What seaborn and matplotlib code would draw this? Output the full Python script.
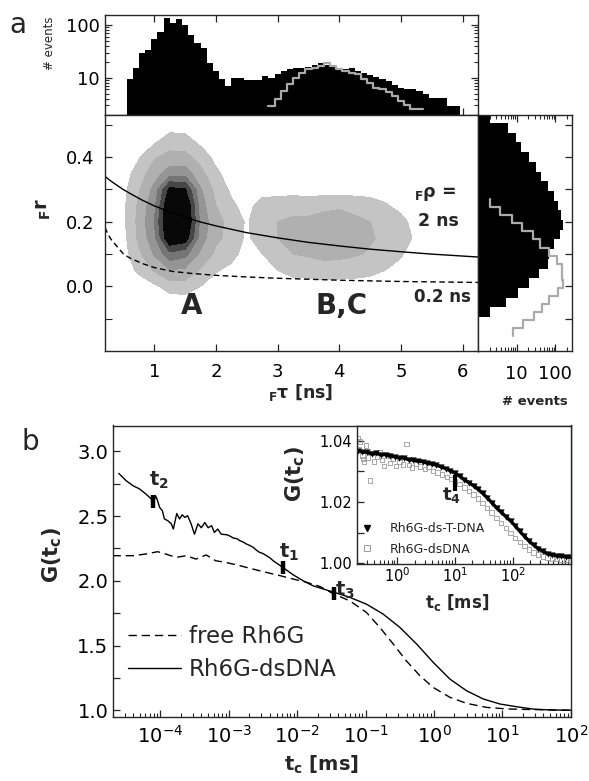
import numpy as np
import pandas as pd
import matplotlib
matplotlib.use("Agg")
import matplotlib.pyplot as plt
import seaborn as sns
from matplotlib.lines import Line2D
from matplotlib.ticker import FixedLocator, LogLocator, NullFormatter, FuncFormatter

# ------------------------------------------------------------------ data
# panel a, top histogram (fluorescence lifetime, 0.1 ns bins)
tau_bin_start = 0.55
tau_bin_width = 0.1
tau_counts_all = [9.3, 15.4, 29.5, 34, 54, 75, 134, 108, 130, 100, 65, 46.5, 36.5,
                  19, 13.3, 9.3, 6.9, 10, 10, 9, 9, 9, 11, 10, 11.6,
                  13.3, 14.4, 15.4, 15.4, 16, 17.8, 19, 17.5, 16, 15, 14.4, 15.4,
                  13.5, 12.5, 11.5, 10.3, 9.5, 8.5, 7.2, 6.5, 6.0, 6.0, 5.5, 4.9,
                  4.2, 4.2, 4.2, 2.9, 2.9]
tau_gray_start = 2.85
tau_counts_gray = [2.9, 4.0, 5.5, 7.5, 10, 12.3, 14.4, 15.4, 16.6, 19, 16.6, 14.8,
                   13.3, 12.3, 11.6, 9.3, 8.1, 6.5, 6.0, 5.3, 4.5, 3.6, 3.0, 2.6, 2.5]

# panel a, right histogram (anisotropy)
r_bin_start = -0.095
r_bin_width = 0.03
r_counts_all = [2.0, 5.4, 10.7, 21, 38, 63, 69, 93, 130, 158, 138, 120, 93, 63,
                42, 31.6, 21, 13, 9.7, 5.9, 2.0]
r_gray_start = -0.155
r_gray_width = 0.025
r_counts_gray = [8, 15, 28, 45, 70, 120, 160, 152, 150, 110, 70, 40, 27, 14, 7.5, 3.7, 2.0]

# panel a, 2D frequency map (contour level read on a coarse grid)
density_tau = [0.25, 0.5, 0.75, 1.0, 1.25, 1.5, 1.75, 2.0, 2.25, 2.5, 2.75, 3.0,
               3.25, 3.5, 3.75, 4.0, 4.25, 4.5, 4.75, 5.0, 5.25, 5.5]
density_r = [0.50, 0.45, 0.40, 0.35, 0.30, 0.25, 0.20, 0.15, 0.10, 0.05, 0.0, -0.05]
density_map = [
    [0, 0, 0, 0, 0, 0, 0, 0, 0, 0, 0, 0, 0, 0, 0, 0, 0, 0, 0, 0, 0, 0],
    [0, 0, 0, 0.3, 1.0, 0.9, 0.2, 0, 0, 0, 0, 0, 0, 0, 0, 0, 0, 0, 0, 0, 0, 0],
    [0, 0, 0.4, 1.4, 1.8, 1.8, 1.1, 0.2, 0, 0, 0, 0, 0, 0, 0, 0, 0, 0, 0, 0, 0, 0],
    [0, 0, 1.0, 2.0, 3.0, 3.0, 1.8, 0.7, 0, 0, 0, 0, 0, 0, 0, 0, 0, 0, 0, 0, 0, 0],
    [0, 0.2, 1.4, 2.8, 5.8, 5.6, 2.6, 1.2, 0.3, 0, 0, 0, 0, 0, 0, 0, 0, 0, 0, 0, 0, 0],
    [0, 0.3, 1.7, 3.2, 6.8, 6.8, 3.0, 1.5, 0.7, 0.1, 1.0, 1.1, 1.3, 1.1, 1.3, 1.4, 1.2, 1.0, 0.6, 0.2, 0, 0],
    [0, 0.3, 1.8, 3.5, 7.0, 7.0, 3.2, 1.8, 1.2, 0.35, 1.4, 1.5, 1.6, 1.7, 1.8, 1.8, 1.7, 1.5, 1.2, 0.8, 0.1, 0],
    [0, 0.2, 1.7, 3.2, 6.6, 6.2, 3.0, 1.7, 1.2, 0.3, 1.1, 1.5, 1.7, 1.8, 2.0, 2.0, 1.8, 1.6, 1.3, 1.0, 0.3, 0],
    [0, 0.1, 1.3, 2.6, 4.2, 3.8, 2.3, 1.3, 0.9, 0, 0.5, 1.2, 1.5, 1.6, 1.7, 1.7, 1.6, 1.4, 1.1, 0.6, 0, 0],
    [0, 0, 0.7, 1.6, 2.5, 2.3, 1.4, 0.6, 0.2, 0, 0, 0.5, 0.9, 1.0, 1.2, 1.1, 1.0, 0.8, 0.5, 0.2, 0, 0],
    [0, 0, 0, 0.3, 0.9, 1.0, 0.5, 0, 0, 0, 0, 0, 0, 0, 0, 0, 0, 0, 0, 0, 0, 0],
    [0, 0, 0, 0, 0, 0, 0, 0, 0, 0, 0, 0, 0, 0, 0, 0, 0, 0, 0, 0, 0, 0],
]

# Perrin lines
perrin2_tau = [0.2, 0.3, 0.4, 0.5, 0.6, 0.8, 1.0, 1.25, 1.5, 1.75, 2.0, 2.5, 3.0,
               3.5, 4.0, 4.5, 5.0, 5.5, 6.25]
perrin2_r = [0.340, 0.325, 0.312, 0.299, 0.288, 0.267, 0.249, 0.230, 0.214, 0.199,
             0.187, 0.166, 0.150, 0.136, 0.125, 0.115, 0.107, 0.0997, 0.0907]
perrin02_tau = [0.2, 0.25, 0.3, 0.4, 0.5, 0.6, 0.8, 1.0, 1.3, 1.6, 2.0, 2.5, 3.0,
                4.0, 5.0, 6.25]
perrin02_r = [0.182, 0.160, 0.145, 0.122, 0.100, 0.088, 0.071, 0.058, 0.046, 0.040,
              0.034, 0.029, 0.025, 0.019, 0.015, 0.012]

# panel b, correlation curves
dna_tc = [2.47e-5, 3.16e-5, 3.98e-5, 5.01e-5, 6.17e-5, 7.41e-5, 7.76e-5, 8.51e-5,
          9.12e-5, 9.77e-5, 1.07e-4, 1.15e-4, 1.29e-4, 1.45e-4, 1.55e-4, 1.74e-4,
          1.91e-4, 2.09e-4, 2.29e-4, 2.51e-4, 2.82e-4, 3.16e-4, 3.55e-4, 3.98e-4,
          4.47e-4, 5.01e-4, 5.62e-4, 6.17e-4, 6.92e-4, 7.76e-4, 9.33e-4, 1.05e-3,
          1.17e-3, 1.32e-3, 1.45e-3, 1.62e-3, 1.82e-3, 2.05e-3, 2.29e-3, 2.55e-3,
          2.82e-3, 3.2e-3, 3.55e-3, 4.0e-3, 4.47e-3, 6.17e-3, 8.71e-3, 1.23e-2,
          1.70e-2, 2.40e-2, 3.55e-2, 5.89e-2, 0.103, 0.181, 0.318, 0.558, 0.977,
          1.71, 3.01, 5.27, 9.25, 16.2, 28.2, 50, 100]
dna_G = [2.83, 2.774, 2.735, 2.709, 2.67, 2.632, 2.58, 2.658, 2.62, 2.567, 2.542,
         2.478, 2.464, 2.44, 2.40, 2.52, 2.478, 2.51, 2.49, 2.503, 2.44, 2.36, 2.44,
         2.41, 2.45, 2.41, 2.426, 2.374, 2.40, 2.36, 2.356, 2.345, 2.33, 2.325, 2.31,
         2.30, 2.284, 2.272, 2.258, 2.236, 2.22, 2.21, 2.194, 2.178, 2.155, 2.104,
         2.047, 2.0, 1.962, 1.937, 1.91, 1.872, 1.82, 1.743, 1.64, 1.512, 1.37,
         1.241, 1.15, 1.087, 1.048, 1.027, 1.009, 1.002, 1.0]
free_tc = [2.0e-5, 3.98e-5, 6.17e-5, 9.12e-5, 1.20e-4, 1.70e-4, 2.40e-4, 3.31e-4,
           4.68e-4, 6.46e-4, 9.12e-4, 1.45e-3, 2.29e-3, 3.55e-3, 5.62e-3, 8.71e-3,
           1.38e-2, 2.14e-2, 3.39e-2, 5.89e-2, 0.103, 0.162, 0.254, 0.398, 0.624,
           0.977, 1.71, 3.01, 5.89, 11.6, 28.2, 100]
free_G = [2.194, 2.194, 2.207, 2.225, 2.207, 2.181, 2.194, 2.168, 2.20, 2.155, 2.142,
          2.117, 2.09, 2.065, 2.04, 2.014, 1.988, 1.957, 1.90, 1.845, 1.756, 1.64,
          1.512, 1.38, 1.267, 1.176, 1.10, 1.053, 1.022, 1.01, 1.005, 1.0]
mark_labels = ["1", "2", "3"]
mark_tc = [6.2e-3, 7.8e-5, 3.5e-2]
mark_G = [2.10, 2.61, 1.905]
mark_label_tc = [7.6e-3, 9.4e-5, 5.0e-2]
mark_label_G = [2.217, 2.78, 1.923]

# inset
tdna_tc = [0.209, 0.251, 0.302, 0.363, 0.437, 0.525, 0.631, 0.759, 0.912, 1.096,
           1.318, 1.585, 1.905, 2.29, 2.754, 3.311, 3.981, 4.786, 5.754, 6.918,
           8.318, 10.0, 12.02, 14.45, 17.38, 20.89, 25.12, 30.2, 36.31, 43.65,
           52.48, 63.1, 75.86, 91.2, 109.6, 131.8, 158.5, 190.5, 229.1, 275.4,
           331.1, 398.1, 478.6, 575.4, 691.8, 831.8, 1000]
tdna_G = [1.0368, 1.0364, 1.0362, 1.0357, 1.0359, 1.0354, 1.0355, 1.0349, 1.0348,
          1.0343, 1.0344, 1.0338, 1.0337, 1.0333, 1.0332, 1.0327, 1.0325, 1.0320,
          1.0315, 1.0309, 1.0302, 1.0294, 1.0284, 1.0273, 1.0263, 1.0253, 1.0241,
          1.0228, 1.0213, 1.0197, 1.0180, 1.0166, 1.0152, 1.0138, 1.0122, 1.0104,
          1.0088, 1.0072, 1.0059, 1.0047, 1.0038, 1.0031, 1.0027, 1.0024, 1.0022,
          1.0020, 1.0019]
ds_tc = [0.21, 0.22, 0.23, 0.25, 0.26, 0.27, 0.29, 0.31, 0.34, 0.37, 0.40, 0.45,
         0.50, 0.55, 0.60, 0.68, 0.75, 0.85, 0.95, 1.1, 1.25, 1.45, 1.6, 1.8, 2.1,
         2.5, 3.0, 3.5, 4.2, 5.0, 6.0, 7.2, 8.5, 10, 12, 14.5, 17.5, 21, 25, 30, 36,
         43, 52, 63, 76, 91, 110, 132, 158, 190, 229, 275, 330, 400, 480, 575, 690,
         830, 1000]
ds_G = [1.0410, 1.0372, 1.0398, 1.0352, 1.0340, 1.0330, 1.0385, 1.0345, 1.0270,
        1.0360, 1.0332, 1.0348, 1.0362, 1.0338, 1.0318, 1.0352, 1.0328, 1.0340,
        1.0318, 1.0330, 1.0322, 1.0389, 1.0320, 1.0312, 1.0325, 1.0316, 1.0308,
        1.0315, 1.0302, 1.0296, 1.0290, 1.0282, 1.0275, 1.0268, 1.0258, 1.0247,
        1.0236, 1.0224, 1.0211, 1.0197, 1.0181, 1.0165, 1.0148, 1.0131, 1.0115,
        1.0099, 1.0083, 1.0068, 1.0055, 1.0044, 1.0035, 1.0028, 1.0022, 1.0018,
        1.0015, 1.0013, 1.0012, 1.0011, 1.0010]
t4_tc = 10.2
t4_G = 1.0262
t4_label_tc = 8.7
t4_label_G = 1.0224

# ------------------------------------------------------------------ style
sns.set_style("ticks")
plt.rcParams["font.family"] = ["DejaVu Sans"]
plt.rcParams["mathtext.fontset"] = "dejavusans"
plt.rcParams["axes.edgecolor"] = "#262626"
plt.rcParams["axes.linewidth"] = 1.0
plt.rcParams["xtick.color"] = "#262626"
plt.rcParams["ytick.color"] = "#262626"
plt.rcParams["xtick.labelcolor"] = "black"
plt.rcParams["ytick.labelcolor"] = "black"

W, H = 589, 781
fig = plt.figure(figsize=(W / 100, H / 100), dpi=100)


def px_axes(l, t, r, b):
    return fig.add_axes([l / W, 1 - b / H, (r - l) / W, (b - t) / H])


ax_top = px_axes(105, 15, 478, 115)
ax_main = px_axes(105, 115, 478, 351)
ax_right = px_axes(478, 115, 572, 351)
ax_b = px_axes(112.5, 425.5, 570.7, 716.7)
ax_in = px_axes(356.7, 425.5, 570.7, 564)

GRAY_HIST = "#aaaaaa"
TICK_FMT = FuncFormatter(lambda v, p: f"{v:g}")
DASH = (0, (6, 3.5))


def ticks(ax, size):
    ax.tick_params(which="both", direction="in", labelsize=size, pad=3)
    ax.tick_params(which="major", length=5, width=0.9)
    ax.tick_params(which="minor", length=3, width=0.8)


def hist_frame(start, width, counts):
    n = len(counts)
    centers = [start + width * (i + 0.5) for i in range(n)]
    return pd.DataFrame({"pos": centers, "count": counts}), (start, start + width * n)


# ------------------------------------------------------------------ top histogram
df_tau, rng_tau = hist_frame(tau_bin_start, tau_bin_width, tau_counts_all)
df_taug, rng_taug = hist_frame(tau_gray_start, tau_bin_width, tau_counts_gray)
sns.histplot(data=df_tau, x="pos", weights="count", binwidth=tau_bin_width,
             binrange=rng_tau, element="step", fill=True, color="black", alpha=1,
             linewidth=0, ax=ax_top)
sns.histplot(data=df_taug, x="pos", weights="count", binwidth=tau_bin_width,
             binrange=rng_taug, element="step", fill=False, color=GRAY_HIST,
             linewidth=1.6, ax=ax_top)
ax_top.set_yscale("log")
ax_top.set_xlim(0.2, 6.25)
ax_top.set_ylim(1.96, 155)
ax_top.set_xticks([1, 2, 3, 4, 5, 6])
ax_top.yaxis.set_major_locator(FixedLocator([10, 100]))
ax_top.yaxis.set_minor_locator(LogLocator(base=10, subs=np.arange(2, 10)))
ax_top.yaxis.set_major_formatter(TICK_FMT)
ax_top.yaxis.set_minor_formatter(NullFormatter())
ticks(ax_top, 13)
ax_top.tick_params(axis="x", which="both", top=True, bottom=True, labelbottom=False)
ax_top.tick_params(axis="y", which="both", left=True, right=True, pad=4)
ax_top.set_xlabel("")
ax_top.set_ylabel("# events", fontsize=8.5)
ax_top.yaxis.set_label_coords(-0.131, 0.715)

# ------------------------------------------------------------------ 2D map
Z = np.array(density_map)[::-1]
ax_main.contourf(density_tau, density_r[::-1], Z,
                 levels=[0.5, 1.5, 2.5, 3.5, 4.5, 5.5, 50],
                 colors=["#c4c4c4", "#b0b0b0", "#959595", "#757575", "#474747", "#080808"])
sns.lineplot(x=perrin2_tau, y=perrin2_r, color="black", linewidth=1.0, ax=ax_main)
sns.lineplot(x=perrin02_tau, y=perrin02_r, color="black", linewidth=1.0,
             linestyle=(0, (4, 2.5)), ax=ax_main)
ax_main.set_xlim(0.2, 6.25)
ax_main.set_ylim(-0.2, 0.53)
ax_main.set_xticks([1, 2, 3, 4, 5, 6])
ax_main.yaxis.set_major_locator(FixedLocator([0.0, 0.2, 0.4]))
ax_main.yaxis.set_minor_locator(FixedLocator([-0.1, 0.1, 0.3, 0.5]))
ax_main.yaxis.set_major_formatter(FuncFormatter(lambda v, p: f"{v:.1f}"))
ticks(ax_main, 13)
ax_main.tick_params(which="minor", length=5)
ax_main.tick_params(axis="x", pad=8.5)
ax_main.tick_params(axis="y", pad=8)
ax_main.tick_params(top=False, right=False, which="both")
ax_main.set_xlabel(r"${}_{\mathbf{F}}\mathbf{\tau}$ [ns]", fontsize=12.5, fontweight="bold")
ax_main.xaxis.set_label_coords(0.523, -0.13)
ax_main.set_ylabel(r"${}_{\mathbf{F}}\mathbf{r}$", fontsize=14, fontweight="bold")
ax_main.yaxis.set_label_coords(-0.14, 0.6)
ax_main.text(5.22, 0.287, r"${}_{\mathbf{F}}\mathbf{\rho}$ =", fontsize=12.5,
             fontweight="bold", ha="left", va="center")
ax_main.text(5.28, 0.203, "2 ns", fontsize=12.5, fontweight="bold", ha="left", va="center")
ax_main.text(5.22, -0.033, "0.2 ns", fontsize=12, fontweight="bold", ha="left", va="center")
ax_main.text(1.6, -0.062, "A", fontsize=20, fontweight="bold", ha="center", va="center")
ax_main.text(4.03, -0.062, "B,C", fontsize=20, fontweight="bold", ha="center", va="center")

# ------------------------------------------------------------------ right histogram
df_r, rng_r = hist_frame(r_bin_start, r_bin_width, r_counts_all)
df_rg, rng_rg = hist_frame(r_gray_start, r_gray_width, r_counts_gray)
sns.histplot(data=df_r, y="pos", weights="count", binwidth=r_bin_width,
             binrange=rng_r, element="step", fill=True, color="black", alpha=1,
             linewidth=0, ax=ax_right)
sns.histplot(data=df_rg, y="pos", weights="count", binwidth=r_gray_width,
             binrange=rng_rg, element="step", fill=False, color=GRAY_HIST,
             linewidth=1.6, ax=ax_right)
ax_right.set_xscale("log")
ax_right.set_xlim(1, 270)
ax_right.set_ylim(-0.2, 0.53)
ax_right.xaxis.set_major_locator(FixedLocator([10, 100]))
ax_right.xaxis.set_minor_locator(LogLocator(base=10, subs=np.arange(2, 10)))
ax_right.xaxis.set_major_formatter(TICK_FMT)
ax_right.xaxis.set_minor_formatter(NullFormatter())
ax_right.yaxis.set_major_locator(FixedLocator([-0.1, 0.0, 0.1, 0.2, 0.3, 0.4, 0.5]))
ticks(ax_right, 13)
ax_right.tick_params(axis="x", which="both", top=True, bottom=True, pad=10)
ax_right.tick_params(axis="y", which="both", left=False, right=True, labelleft=False)
ax_right.set_ylabel("")
ax_right.set_xlabel("# events", fontsize=9.5, fontweight="bold")
ax_right.xaxis.set_label_coords(0.606, -0.186)

# ------------------------------------------------------------------ panel b
sns.lineplot(x=free_tc, y=free_G, color="black", linewidth=1.0, linestyle=DASH, ax=ax_b)
sns.lineplot(x=dna_tc, y=dna_G, color="black", linewidth=1.0, ax=ax_b)
ax_b.set_xscale("log")
ax_b.set_xlim(2e-5, 100)
ax_b.set_ylim(0.95, 3.2)
for lab, tc, g, ltc, lg in zip(mark_labels, mark_tc, mark_G, mark_label_tc, mark_label_G):
    ax_b.plot([tc, tc], [g - 0.05, g + 0.05], color="black", linewidth=3.2,
              solid_capstyle="butt")
    ax_b.text(ltc, lg, r"$\mathbf{t_{" + lab + "}}$", fontsize=14, ha="center", va="center")
ax_b.xaxis.set_major_locator(LogLocator(base=10, numticks=12))
ax_b.xaxis.set_minor_locator(LogLocator(base=10, subs=np.arange(2, 10), numticks=12))
ax_b.xaxis.set_minor_formatter(NullFormatter())
ax_b.yaxis.set_major_locator(FixedLocator([1.0, 1.25, 1.5, 1.75, 2.0, 2.25, 2.5, 2.75, 3.0]))
ax_b.yaxis.set_major_formatter(FuncFormatter(
    lambda v, p: f"{v:.1f}" if abs(v * 2 - round(v * 2)) < 1e-6 else ""))
ticks(ax_b, 14)
ax_b.tick_params(axis="x", pad=6)
ax_b.tick_params(top=False, right=False, which="both")
ax_b.set_xlabel(r"$\mathbf{t_c}$ [ms]", fontsize=14, fontweight="bold")
ax_b.xaxis.set_label_coords(0.457, -0.128)
ax_b.set_ylabel(r"$\mathbf{G(t_c)}$", fontsize=15)
ax_b.yaxis.set_label_coords(-0.106, 0.555)
leg_handles = [Line2D([], [], color="black", lw=1.0, ls=DASH),
               Line2D([], [], color="black", lw=1.0)]
ax_b.legend(leg_handles, ["free Rh6G", "Rh6G-dsDNA"], loc="upper left",
            bbox_to_anchor=(0.0334, 0.315), frameon=False, fontsize=16.5,
            handlelength=2.3, handletextpad=0.35, borderpad=0, borderaxespad=0,
            labelspacing=0.45)

# ------------------------------------------------------------------ inset
ax_in.set_facecolor("white")
sns.scatterplot(x=ds_tc, y=ds_G, marker="s", s=10, facecolor="none",
                edgecolor="#9a9a9a", linewidth=0.6, ax=ax_in)
sns.lineplot(x=tdna_tc, y=tdna_G, color="black", linewidth=2.4, ax=ax_in)
sns.scatterplot(x=tdna_tc, y=tdna_G, marker="v", s=16, color="black",
                edgecolor="black", linewidth=0.3, ax=ax_in)
ax_in.set_xscale("log")
ax_in.set_xlim(0.2, 1000)
ax_in.set_ylim(0.9997, 1.045)
ax_in.plot([t4_tc, t4_tc], [t4_G - 0.0025, t4_G + 0.0025], color="black",
           linewidth=3.0, solid_capstyle="butt")
ax_in.text(t4_label_tc, t4_label_G, r"$\mathbf{t_4}$", fontsize=13, ha="center", va="center")
ax_in.xaxis.set_major_locator(FixedLocator([1, 10, 100]))
ax_in.xaxis.set_minor_locator(LogLocator(base=10, subs=np.arange(2, 10), numticks=12))
ax_in.xaxis.set_minor_formatter(NullFormatter())
ax_in.xaxis.set_major_formatter(FuncFormatter(
    lambda v, p: r"$\mathdefault{10^{%d}}$" % round(np.log10(v))))
ax_in.yaxis.set_major_locator(FixedLocator([1.00, 1.01, 1.02, 1.03, 1.04]))
ax_in.yaxis.set_major_formatter(FuncFormatter(
    lambda v, p: f"{v:.2f}" if round(v * 100) % 2 == 0 else ""))
ticks(ax_in, 10.5)
ax_in.tick_params(axis="x", pad=2)
ax_in.tick_params(top=False, right=False, which="both")
ax_in.set_xlabel(r"$\mathbf{t_c}$ [ms]", fontsize=12, fontweight="bold")
ax_in.xaxis.set_label_coords(0.47, -0.2)
ax_in.set_ylabel(r"$\mathbf{G(t_c)}$", fontsize=15)
ax_in.yaxis.set_label_coords(-0.234, 0.65)
in_handles = [Line2D([], [], marker="v", ls="", color="black", ms=5),
              Line2D([], [], marker="s", ls="", mfc="none", mec="#9a9a9a", ms=4, mew=0.7)]
ax_in.legend(in_handles, ["Rh6G-ds-T-DNA", "Rh6G-dsDNA"], loc="lower left",
             bbox_to_anchor=(0.02, 0.06), frameon=False, fontsize=9,
             handlelength=1.0, handletextpad=1.3, borderpad=0, borderaxespad=0,
             labelspacing=0.6)

# panel letters
fig.text(9 / W, 1 - 33 / H, "a", fontsize=20, ha="left", va="baseline")
fig.text(22 / W, 1 - 450 / H, "b", fontsize=20, ha="left", va="baseline")

fig.savefig("out.png", dpi=100)
